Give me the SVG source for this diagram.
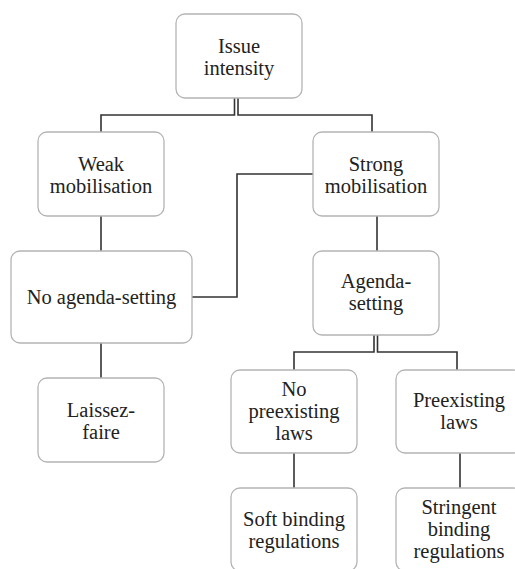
<svg xmlns="http://www.w3.org/2000/svg" width="515" height="569" viewBox="0 0 515 569">
<style>
.box{fill:#fff;stroke:#b4b4b4;stroke-width:1.3}
.t{font-size:20.5px;fill:#222;text-anchor:middle}
.c{fill:none;stroke:#333;stroke-width:1.6}
</style>
<rect width="515" height="569" fill="#fff"/>
<g id="connectors">
<path class="c" d="M234.5 98 V115 H101 V132"/>
<path class="c" d="M238 98 V115 H372 V132"/>
<path class="c" d="M101 216 V251"/>
<path class="c" d="M101 343 V378"/>
<path class="c" d="M313 174 H237 V297 H192"/>
<path class="c" d="M377 216 V251"/>
<path class="c" d="M374 335 V352 H294 V370"/>
<path class="c" d="M377.5 335 V352 H457 V370"/>
<path class="c" d="M294 453 V488"/>
<path class="c" d="M460 453 V488"/>
</g>
<g font-family="Liberation Serif, DejaVu Serif, Noto Serif, FreeSerif, serif">
<g id="issue">
<rect class="box" x="176" y="14" width="126" height="84" rx="9"/>
<text class="t" x="239" y="53">Issue</text>
<text class="t" x="239" y="75">intensity</text>
</g>
<g id="weak">
<rect class="box" x="38" y="132" width="126" height="84" rx="9"/>
<text class="t" x="101" y="171">Weak</text>
<text class="t" x="101" y="193">mobilisation</text>
</g>
<g id="strong">
<rect class="box" x="313" y="132" width="126" height="84" rx="9"/>
<text class="t" x="376" y="171">Strong</text>
<text class="t" x="376" y="193">mobilisation</text>
</g>
<g id="noagenda">
<rect class="box" x="11" y="251" width="181" height="92" rx="9"/>
<text class="t" x="101.5" y="304">No agenda-setting</text>
</g>
<g id="agenda">
<rect class="box" x="313" y="251" width="126" height="84" rx="9"/>
<text class="t" x="376" y="288">Agenda-</text>
<text class="t" x="376" y="310">setting</text>
</g>
<g id="laissez">
<rect class="box" x="38" y="378" width="126" height="84" rx="9"/>
<text class="t" x="101" y="417">Laissez-</text>
<text class="t" x="101" y="439">faire</text>
</g>
<g id="nopreexisting">
<rect class="box" x="231" y="370" width="126" height="83" rx="9"/>
<text class="t" x="294" y="396">No</text>
<text class="t" x="294" y="418">preexisting</text>
<text class="t" x="294" y="440">laws</text>
</g>
<g id="preexisting">
<rect class="box" x="396" y="370" width="126" height="83" rx="9"/>
<text class="t" x="459" y="407">Preexisting</text>
<text class="t" x="459" y="429">laws</text>
</g>
<g id="soft">
<rect class="box" x="231" y="488" width="126" height="83" rx="9"/>
<text class="t" x="294" y="526">Soft binding</text>
<text class="t" x="294" y="548">regulations</text>
</g>
<g id="stringent">
<rect class="box" x="396" y="488" width="126" height="83" rx="9"/>
<text class="t" x="459" y="514">Stringent</text>
<text class="t" x="459" y="536">binding</text>
<text class="t" x="459" y="558">regulations</text>
</g>
</g>
</svg>
